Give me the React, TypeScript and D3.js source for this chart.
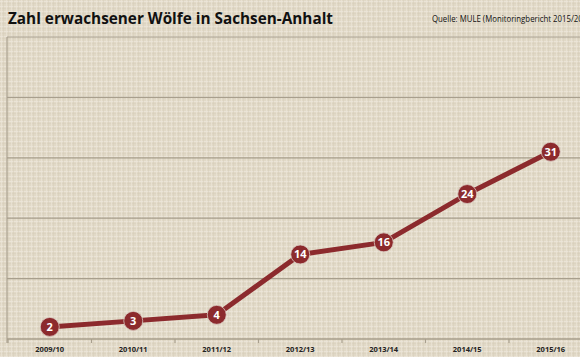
import React from "react";
import * as d3 from "d3";

const categories = ["2009/10", "2010/11", "2011/12", "2012/13", "2013/14", "2014/15", "2015/16"];
const values = [2, 3, 4, 14, 16, 24, 31];
const yTicks = [0, 10, 20, 30, 40, 50];
const title = "Zahl erwachsener Wölfe in Sachsen-Anhalt";
const source = "Quelle: MULE (Monitoringbericht 2015/2016)";

export default function App() {
  const W = 580, H = 357;
  const left = 8, right = 8 + 7 * 83.5;
  const x = d3.scaleBand<string>().domain(categories).range([left, right]);
  const y = d3.scaleLinear().domain([0, 50]).range([339, 37]);
  const line = d3.line<number>()
    .x((_, i) => (x(categories[i]) as number) + x.bandwidth() / 2)
    .y((d) => y(d));
  const red = "#8c2a2d";
  const grid = "#a89f8d";
  return (
    <svg width={W} height={H} style={{ position: "absolute", left: 0, top: 0, display: "block" }}>
      <defs>
        <pattern id="linen" width="5" height="5" patternUnits="userSpaceOnUse">
          <rect width="5" height="5" fill="#e1d9c7" />
          <rect x="0" y="1" width="5" height="1" fill="#ece6d9" opacity="0.8" />
          <rect x="0" y="3" width="5" height="1" fill="#d8cfbc" opacity="0.5" />
          <rect x="1" y="0" width="1" height="5" fill="#ebe5d7" opacity="0.7" />
          <rect x="3" y="0" width="1" height="5" fill="#d6cdb9" opacity="0.45" />
        </pattern>
      </defs>
      <rect width={W} height={H} fill="url(#linen)" />
      {yTicks.slice(1).map((t) => (
        <line key={t} x1={7} x2={W} y1={y(t)} y2={y(t)} stroke={grid} strokeWidth={1.2} />
      ))}
      <line x1={7} x2={7} y1={y(50)} y2={y(0) + 4} stroke={grid} strokeWidth={1.2} />
      <line x1={7} x2={W} y1={y(0)} y2={y(0)} stroke={grid} strokeWidth={1.5} />
      {categories.map((c) => (
        <line key={c} x1={x(c) as number} x2={x(c) as number} y1={y(0)} y2={y(0) + 4} stroke={grid} strokeWidth={1.2} />
      ))}
      {categories.map((c) => (
        <text key={c} x={(x(c) as number) + x.bandwidth() / 2} y={352} textAnchor="middle"
          fontFamily="'Open Sans', sans-serif" fontWeight="bold" fontSize={7.5} fill="#222">{c}</text>
      ))}
      <path d={line(values) || ""} fill="none" stroke={red} strokeWidth={5} strokeLinejoin="round" />
      {values.map((v, i) => {
        const cx = (x(categories[i]) as number) + x.bandwidth() / 2;
        const cy = y(v);
        return (
          <g key={i}>
            <circle cx={cx} cy={cy} r={9.5} fill={red} stroke="#d9c9c0" strokeWidth={0.8} />
            <text x={cx} y={cy + 4} textAnchor="middle" fontFamily="'Open Sans', sans-serif"
              fontWeight="bold" fontSize={11} fill="#fff">{v}</text>
          </g>
        );
      })}
      <text x={8} y={24} fontFamily="'Open Sans', sans-serif" fontWeight="bold" fontSize={16.5}
        fill="#111" textLength={325} lengthAdjust="spacingAndGlyphs">{title}</text>
      <text x={432} y={22} fontFamily="'Open Sans', sans-serif" fontSize={8.5} fill="#111"
        textLength={162} lengthAdjust="spacingAndGlyphs">{source}</text>
    </svg>
  );
}
